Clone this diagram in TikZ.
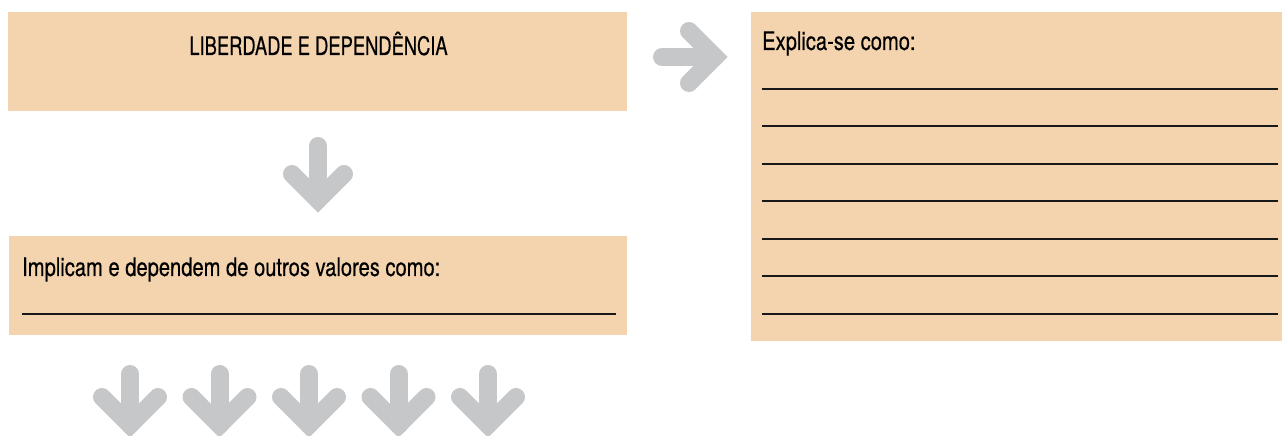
\documentclass[tikz,border=0pt]{standalone}
\usepackage{fontspec}
\usetikzlibrary{calc}
\setmainfont{TeX Gyre Heros}[FakeStretch=0.79,FakeBold=0.4]
\newfontfamily\capsfont{TeX Gyre Heros}[FakeStretch=0.72,FakeBold=0.4]
\definecolor{boxfill}{HTML}{F4D4AF}
\definecolor{arrowgray}{HTML}{C6C7C9}
\begin{document}
\begin{tikzpicture}[x=1pt,y=1pt,
  box/.style={fill=boxfill, draw=none, inner sep=0pt, anchor=north west},
  label/.style={inner sep=0pt, font=\fontsize{25.5}{28}\selectfont},
  rule/.style={draw=black!90, line width=1.8pt},
  fatarrow/.style={draw=arrowgray, line width=18pt, line cap=round, line join=miter}]
\useasboundingbox (0,0) rectangle (1282,436);
% boxes
\node[box, minimum width=619pt, minimum height=99pt] (b1) at (8,424) {};
\node[box, minimum width=618pt, minimum height=99pt] (b2) at (9,200) {};
\node[box, minimum width=531pt, minimum height=329pt] (b3) at (751,424) {};
% texts
\node[label, anchor=base, font=\capsfont\fontsize{25.5}{28}\selectfont] (t1) at (318.5,381) {LIBERDADE E DEPENDÊNCIA};
\node[label, anchor=base west] (t2) at (22,160) {Implicam e dependem de outros valores como:};
\node[label, anchor=base west] (t3) at (762,386) {Explica-se como:};
% writing lines
\coordinate (l2a) at (22,122);
\coordinate (l2b) at (616,122);
\draw[rule] (l2a) -- (l2b);
\foreach \y [count=\k] in {347,310,272,235,197,160,122}{
  \coordinate (la\k) at (762,\y);
  \coordinate (lb\k) at (1278,\y);
  \draw[rule] (la\k) -- (lb\k);
}
% right arrow
\coordinate (ra0) at (662,379);
\coordinate (rat) at (715,379);
\draw[fatarrow] (ra0) -- (rat);
\draw[fatarrow] ($(rat)+(-26,26)$) -- (rat) -- ($(rat)+(-26,-26)$);
% down arrow
\coordinate (da0) at (318,290);
\coordinate (dat) at (318,236);
\draw[fatarrow] (da0) -- (dat);
\draw[fatarrow] ($(dat)+(-26,26)$) -- (dat) -- ($(dat)+(26,26)$);
% bottom arrows
\foreach \i in {0,...,4}{
  \coordinate (ba\i) at ({130+89.5*\i},62);
  \coordinate (bt\i) at ({130+89.5*\i},11);
  \draw[fatarrow] (ba\i) -- (bt\i);
  \draw[fatarrow] ($(bt\i)+(-28,28)$) -- (bt\i) -- ($(bt\i)+(28,28)$);
}
\end{tikzpicture}
\end{document}
